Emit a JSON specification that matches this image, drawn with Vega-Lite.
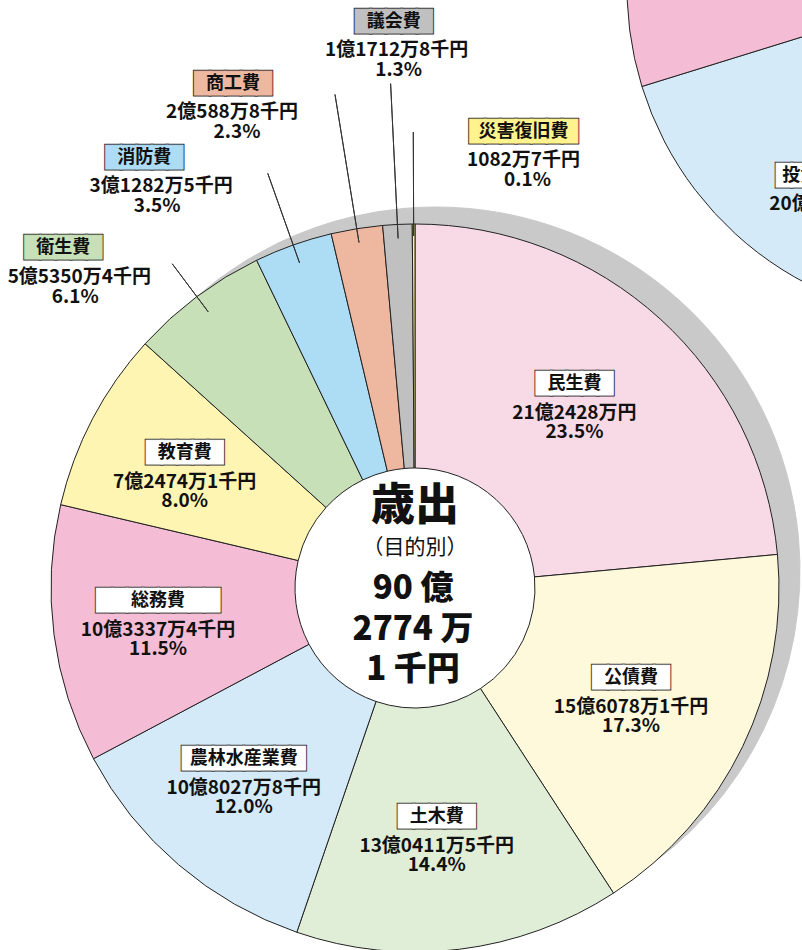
{
  "$schema": "https://vega.github.io/schema/vega-lite/v6.json",
  "width": 830,
  "height": 1176,
  "autosize": "none",
  "padding": 0,
  "background": "#ffffff",
  "config": {"view": {"stroke": null}, "text": {"font": "Noto Sans CJK JP", "color": "#111111"}},
  "datasets": {
    "main": [
      {"category": "民生費", "value": 2124280, "amount": "21億2428万円", "share": "23.5%"},
      {"category": "公債費", "value": 1560781, "amount": "15億6078万1千円", "share": "17.3%"},
      {"category": "土木費", "value": 1304115, "amount": "13億0411万5千円", "share": "14.4%"},
      {"category": "農林水産業費", "value": 1080278, "amount": "10億8027万8千円", "share": "12.0%"},
      {"category": "総務費", "value": 1033374, "amount": "10億3337万4千円", "share": "11.5%"},
      {"category": "教育費", "value": 724741, "amount": "7億2474万1千円", "share": "8.0%"},
      {"category": "衛生費", "value": 553504, "amount": "5億5350万4千円", "share": "6.1%"},
      {"category": "消防費", "value": 312825, "amount": "3億1282万5千円", "share": "3.5%"},
      {"category": "商工費", "value": 205888, "amount": "2億588万8千円", "share": "2.3%"},
      {"category": "議会費", "value": 117128, "amount": "1億1712万8千円", "share": "1.3%"},
      {"category": "災害復旧費", "value": 10827, "amount": "1082万7千円", "share": "0.1%"}
    ],
    "pie2": [
      {"category": "その他の経費1", "value": 4309492, "amount": ""},
      {"category": "投資的経費", "value": 2030000, "amount": "20億"},
      {"category": "その他の経費2", "value": 2000000, "amount": ""},
      {"category": "その他の経費3", "value": 688249, "amount": ""}
    ],
    "center": [
      {"title": "歳出", "subtitle": "（目的別）", "oku": "90 億", "man": "2774 万", "sen": "1 千円"}
    ]
  },
  "layer": [
    {
      "data": {"name": "pie2"},
      "encoding": {
        "theta": {"field": "value", "type": "quantitative", "stack": true},
        "order": {"field": "value", "type": "quantitative", "sort": "descending"}
      },
      "layer": [
        {"mark": {"type": "arc", "radius": 333, "xOffset": 545, "yOffset": -600, "stroke": "#222222", "strokeWidth": 1},
         "encoding": {"color": {"condition": {"test": "datum.category === '投資的経費'", "value": "#D4EAF8"}, "value": "#F5BCD5"}}},
        {"mark": {"type": "text", "radius": 224, "xOffset": 545, "yOffset": -600, "dx": -64, "dy": -1, "align": "left", "font": "DejaVu Sans", "fontSize": 20, "fill": "#333333", "stroke": "#333333", "strokeWidth": 3},
         "encoding": {"text": {"condition": {"test": "datum.category === '投資的経費'", "value": "███████"}, "value": ""}}},
        {"mark": {"type": "text", "radius": 224, "xOffset": 545, "yOffset": -600, "dx": -64, "dy": -1, "align": "left", "font": "DejaVu Sans", "fontSize": 20, "fill": "#ffffff", "stroke": "#ffffff", "strokeWidth": 1},
         "encoding": {"text": {"condition": {"test": "datum.category === '投資的経費'", "value": "███████"}, "value": ""}}},
        {"mark": {"type": "text", "radius": 224, "xOffset": 545, "yOffset": -600, "dx": -58, "dy": -1, "align": "left", "fontSize": 18, "fontWeight": "bold"},
         "encoding": {"text": {"field": "category", "type": "nominal", "condition": {"test": "datum.category !== '投資的経費'", "value": ""}}}},
        {"mark": {"type": "text", "radius": 224, "xOffset": 545, "yOffset": -600, "dx": -71, "dy": 27, "align": "left", "fontSize": 19, "fontWeight": "bold"},
         "encoding": {"text": {"field": "amount", "type": "nominal"}}}
      ]
    },
    {
      "data": {"name": "main"},
      "encoding": {
        "theta": {"field": "value", "type": "quantitative", "stack": true},
        "order": {"field": "value", "type": "quantitative", "sort": "descending"}
      },
      "layer": [
        {"mark": {"type": "arc", "radius": 364, "innerRadius": 250, "xOffset": 21, "yOffset": -17, "color": "#C9C9C9", "stroke": "#C9C9C9", "strokeWidth": 1}},
        {"mark": {"type": "arc", "radius": 364, "innerRadius": 120, "stroke": "#222222", "strokeWidth": 1},
         "encoding": {"color": {"field": "category", "type": "nominal", "legend": null,
           "scale": {"domain": ["民生費", "公債費", "土木費", "農林水産業費", "総務費", "教育費", "衛生費", "消防費", "商工費", "議会費", "災害復旧費"],
                     "range": ["#F8D9E6", "#FEF9DB", "#E1EED7", "#D4EAF8", "#F5BCD5", "#FFF5B3", "#C8E0B8", "#ADDCF5", "#EEB8A0", "#C0C0C0", "#FFF38F"]}}}},

        {"mark": {"type": "arc", "innerRadius": 345, "outerRadius": 405, "padAngle": 1.5, "filled": false, "stroke": "#333333", "strokeWidth": 1},
         "encoding": {"strokeOpacity": {"condition": {"test": "datum.category === '衛生費'", "value": 1}, "value": 0}}},
        {"mark": {"type": "arc", "innerRadius": 345, "outerRadius": 440, "padAngle": 1.5, "filled": false, "stroke": "#333333", "strokeWidth": 1},
         "encoding": {"strokeOpacity": {"condition": {"test": "datum.category === '消防費'", "value": 1}, "value": 0}}},
        {"mark": {"type": "arc", "innerRadius": 350, "outerRadius": 500, "padAngle": 1.5, "filled": false, "stroke": "#333333", "strokeWidth": 1},
         "encoding": {"strokeOpacity": {"condition": {"test": "datum.category === '商工費'", "value": 1}, "value": 0}}},
        {"mark": {"type": "arc", "innerRadius": 350, "outerRadius": 505, "padAngle": 1.5, "filled": false, "stroke": "#333333", "strokeWidth": 1},
         "encoding": {"strokeOpacity": {"condition": {"test": "datum.category === '議会費'", "value": 1}, "value": 0}}},
        {"mark": {"type": "arc", "innerRadius": 352, "outerRadius": 456, "padAngle": 1.5, "filled": false, "stroke": "#333333", "strokeWidth": 1},
         "encoding": {"strokeOpacity": {"condition": {"test": "datum.category === '災害復旧費'", "value": 1}, "value": 0}}},

        {"mark": {"type": "text", "radius": 250, "dx": -9, "dy": -19, "font": "DejaVu Sans", "fontSize": 20, "fill": "#333333", "stroke": "#333333", "strokeWidth": 3},
         "encoding": {"text": {"condition": [{"test": "datum.value < 600000", "value": ""}, {"test": "datum.category === '農林水産業費' || datum.category === '総務費'", "value": "████████"}], "value": "█████"}}},
        {"mark": {"type": "text", "radius": 250, "dx": -9, "dy": -19, "font": "DejaVu Sans", "fontSize": 20, "fill": "#ffffff", "stroke": "#ffffff", "strokeWidth": 1},
         "encoding": {"text": {"condition": [{"test": "datum.value < 600000", "value": ""}, {"test": "datum.category === '農林水産業費' || datum.category === '総務費'", "value": "████████"}], "value": "█████"}}},
        {"mark": {"type": "text", "radius": 250, "dx": -9, "dy": -19, "fontSize": 18, "fontWeight": "bold"},
         "encoding": {"text": {"field": "category", "type": "nominal", "condition": {"test": "datum.value < 600000", "value": ""}}}},
        {"mark": {"type": "text", "radius": 250, "dx": -9, "dy": 10, "fontSize": 19, "fontWeight": "bold"},
         "encoding": {"text": {"field": "amount", "type": "nominal", "condition": {"test": "datum.value < 600000", "value": ""}}}},
        {"mark": {"type": "text", "radius": 250, "dx": -9, "dy": 29, "fontSize": 19, "fontWeight": "bold"},
         "encoding": {"text": {"field": "share", "type": "nominal", "condition": {"test": "datum.value < 600000", "value": ""}}}},

        {"mark": {"type": "text", "radius": 400, "dx": -112, "dy": -20, "font": "DejaVu Sans", "fontSize": 20, "fill": "#333333", "stroke": "#333333", "strokeWidth": 3},
         "encoding": {"text": {"condition": {"test": "datum.category === '衛生費'", "value": "█████"}, "value": ""}}},
        {"mark": {"type": "text", "radius": 400, "dx": -112, "dy": -20, "font": "DejaVu Sans", "fontSize": 20, "fill": "#C8E0B8", "stroke": "#C8E0B8", "strokeWidth": 1},
         "encoding": {"text": {"condition": {"test": "datum.category === '衛生費'", "value": "█████"}, "value": ""}}},
        {"mark": {"type": "text", "radius": 400, "dx": -112, "dy": -20, "fontSize": 18, "fontWeight": "bold"},
         "encoding": {"text": {"field": "category", "type": "nominal", "condition": {"test": "datum.category !== '衛生費'", "value": ""}}}},
        {"mark": {"type": "text", "radius": 400, "dx": -96, "dy": 9, "fontSize": 19, "fontWeight": "bold"},
         "encoding": {"text": {"field": "amount", "type": "nominal", "condition": {"test": "datum.category !== '衛生費'", "value": ""}}}},
        {"mark": {"type": "text", "radius": 400, "dx": -100, "dy": 29, "fontSize": 19, "fontWeight": "bold"},
         "encoding": {"text": {"field": "share", "type": "nominal", "condition": {"test": "datum.category !== '衛生費'", "value": ""}}}},

        {"mark": {"type": "text", "radius": 400, "dx": -137, "dy": -53, "font": "DejaVu Sans", "fontSize": 20, "fill": "#333333", "stroke": "#333333", "strokeWidth": 3},
         "encoding": {"text": {"condition": {"test": "datum.category === '消防費'", "value": "█████"}, "value": ""}}},
        {"mark": {"type": "text", "radius": 400, "dx": -137, "dy": -53, "font": "DejaVu Sans", "fontSize": 20, "fill": "#ADDCF5", "stroke": "#ADDCF5", "strokeWidth": 1},
         "encoding": {"text": {"condition": {"test": "datum.category === '消防費'", "value": "█████"}, "value": ""}}},
        {"mark": {"type": "text", "radius": 400, "dx": -137, "dy": -53, "fontSize": 18, "fontWeight": "bold"},
         "encoding": {"text": {"field": "category", "type": "nominal", "condition": {"test": "datum.category !== '消防費'", "value": ""}}}},
        {"mark": {"type": "text", "radius": 400, "dx": -120, "dy": -25, "fontSize": 19, "fontWeight": "bold"},
         "encoding": {"text": {"field": "amount", "type": "nominal", "condition": {"test": "datum.category !== '消防費'", "value": ""}}}},
        {"mark": {"type": "text", "radius": 400, "dx": -124, "dy": -5, "fontSize": 19, "fontWeight": "bold"},
         "encoding": {"text": {"field": "share", "type": "nominal", "condition": {"test": "datum.category !== '消防費'", "value": ""}}}},

        {"mark": {"type": "text", "radius": 400, "dx": -118, "dy": -109, "font": "DejaVu Sans", "fontSize": 20, "fill": "#333333", "stroke": "#333333", "strokeWidth": 3},
         "encoding": {"text": {"condition": {"test": "datum.category === '商工費'", "value": "█████"}, "value": ""}}},
        {"mark": {"type": "text", "radius": 400, "dx": -118, "dy": -109, "font": "DejaVu Sans", "fontSize": 20, "fill": "#EEB8A0", "stroke": "#EEB8A0", "strokeWidth": 1},
         "encoding": {"text": {"condition": {"test": "datum.category === '商工費'", "value": "█████"}, "value": ""}}},
        {"mark": {"type": "text", "radius": 400, "dx": -118, "dy": -109, "fontSize": 18, "fontWeight": "bold"},
         "encoding": {"text": {"field": "category", "type": "nominal", "condition": {"test": "datum.category !== '商工費'", "value": ""}}}},
        {"mark": {"type": "text", "radius": 400, "dx": -119, "dy": -81, "fontSize": 19, "fontWeight": "bold"},
         "encoding": {"text": {"field": "amount", "type": "nominal", "condition": {"test": "datum.category !== '商工費'", "value": ""}}}},
        {"mark": {"type": "text", "radius": 400, "dx": -114, "dy": -61, "fontSize": 19, "fontWeight": "bold"},
         "encoding": {"text": {"field": "share", "type": "nominal", "condition": {"test": "datum.category !== '商工費'", "value": ""}}}},

        {"mark": {"type": "text", "radius": 400, "dx": -2, "dy": -166, "font": "DejaVu Sans", "fontSize": 20, "fill": "#333333", "stroke": "#333333", "strokeWidth": 3},
         "encoding": {"text": {"condition": {"test": "datum.category === '議会費'", "value": "█████"}, "value": ""}}},
        {"mark": {"type": "text", "radius": 400, "dx": -2, "dy": -166, "font": "DejaVu Sans", "fontSize": 20, "fill": "#C0C0C0", "stroke": "#C0C0C0", "strokeWidth": 1},
         "encoding": {"text": {"condition": {"test": "datum.category === '議会費'", "value": "█████"}, "value": ""}}},
        {"mark": {"type": "text", "radius": 400, "dx": -2, "dy": -166, "fontSize": 18, "fontWeight": "bold"},
         "encoding": {"text": {"field": "category", "type": "nominal", "condition": {"test": "datum.category !== '議会費'", "value": ""}}}},
        {"mark": {"type": "text", "radius": 400, "dx": 1, "dy": -138, "fontSize": 19, "fontWeight": "bold"},
         "encoding": {"text": {"field": "amount", "type": "nominal", "condition": {"test": "datum.category !== '議会費'", "value": ""}}}},
        {"mark": {"type": "text", "radius": 400, "dx": 3, "dy": -118, "fontSize": 19, "fontWeight": "bold"},
         "encoding": {"text": {"field": "share", "type": "nominal", "condition": {"test": "datum.category !== '議会費'", "value": ""}}}},

        {"mark": {"type": "text", "radius": 400, "dx": 110, "dy": -56, "font": "DejaVu Sans", "fontSize": 20, "fill": "#333333", "stroke": "#333333", "strokeWidth": 3},
         "encoding": {"text": {"condition": {"test": "datum.category === '災害復旧費'", "value": "███████"}, "value": ""}}},
        {"mark": {"type": "text", "radius": 400, "dx": 110, "dy": -56, "font": "DejaVu Sans", "fontSize": 20, "fill": "#FFF38F", "stroke": "#FFF38F", "strokeWidth": 1},
         "encoding": {"text": {"condition": {"test": "datum.category === '災害復旧費'", "value": "███████"}, "value": ""}}},
        {"mark": {"type": "text", "radius": 400, "dx": 110, "dy": -56, "fontSize": 18, "fontWeight": "bold"},
         "encoding": {"text": {"field": "category", "type": "nominal", "condition": {"test": "datum.category !== '災害復旧費'", "value": ""}}}},
        {"mark": {"type": "text", "radius": 400, "dx": 110, "dy": -28, "fontSize": 19, "fontWeight": "bold"},
         "encoding": {"text": {"field": "amount", "type": "nominal", "condition": {"test": "datum.category !== '災害復旧費'", "value": ""}}}},
        {"mark": {"type": "text", "radius": 400, "dx": 114, "dy": -8, "fontSize": 19, "fontWeight": "bold"},
         "encoding": {"text": {"field": "share", "type": "nominal", "condition": {"test": "datum.category !== '災害復旧費'", "value": ""}}}}
      ]
    },
    {
      "data": {"name": "center"},
      "layer": [
        {"mark": {"type": "text", "dy": -81, "fontSize": 44, "fontWeight": 900}, "encoding": {"text": {"field": "title", "type": "nominal"}}},
        {"mark": {"type": "text", "dy": -40, "fontSize": 21, "fontWeight": "normal"}, "encoding": {"text": {"field": "subtitle", "type": "nominal"}}},
        {"mark": {"type": "text", "dx": -2, "dy": 1, "fontSize": 33, "fontWeight": 900}, "encoding": {"text": {"field": "oku", "type": "nominal"}}},
        {"mark": {"type": "text", "dx": -2, "dy": 42, "fontSize": 33, "fontWeight": 900}, "encoding": {"text": {"field": "man", "type": "nominal"}}},
        {"mark": {"type": "text", "dx": -2, "dy": 82, "fontSize": 33, "fontWeight": 900}, "encoding": {"text": {"field": "sen", "type": "nominal"}}}
      ]
    }
  ]
}
